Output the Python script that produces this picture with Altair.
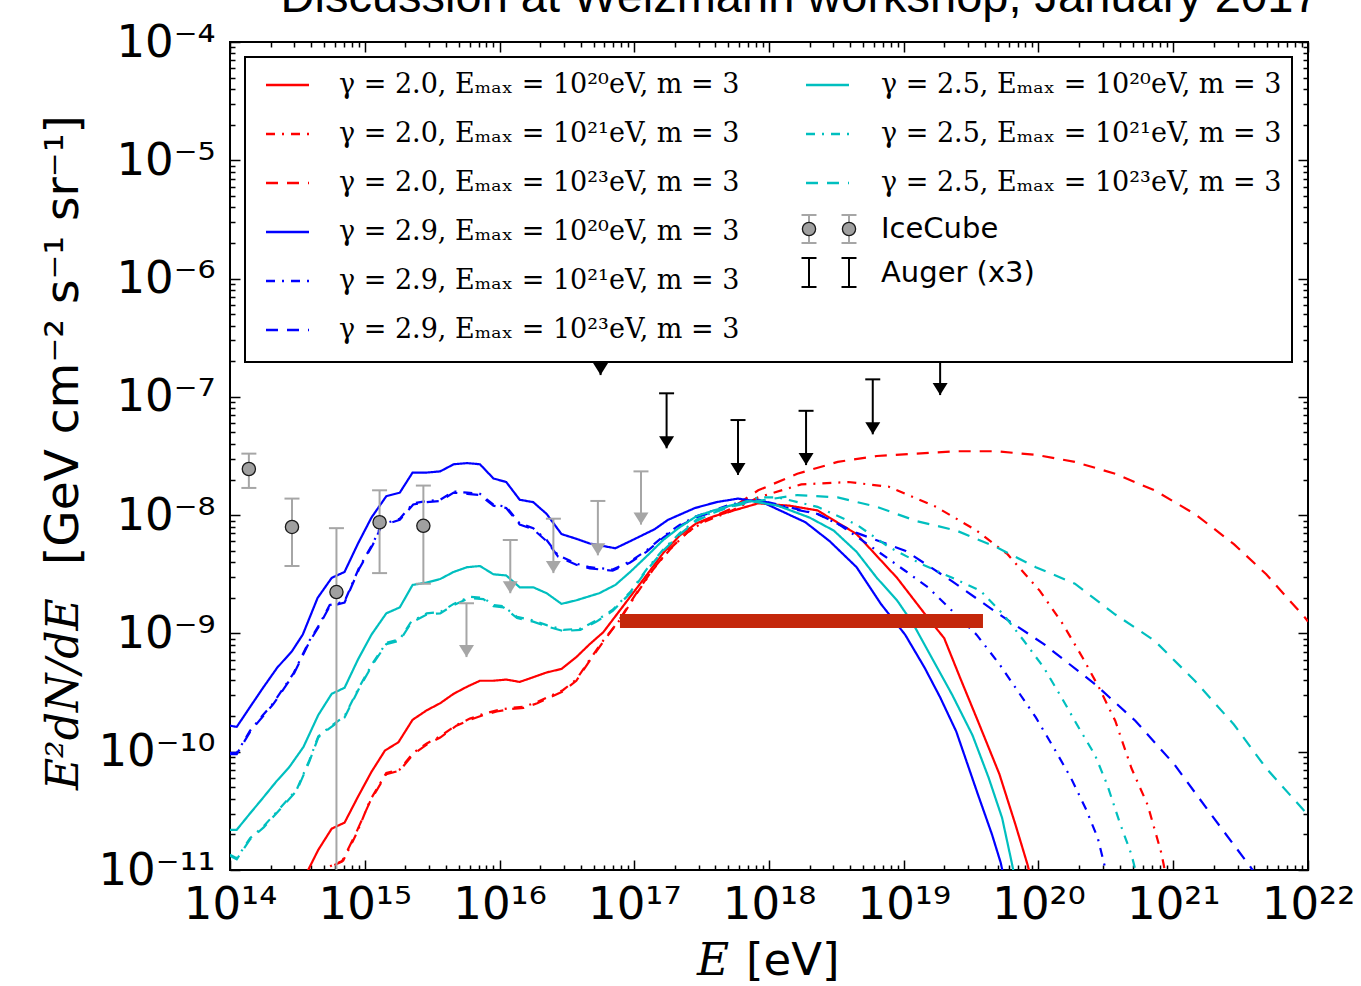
import altair as alt
import pandas as pd

# ---------------- data (log10 E [eV], log10 E^2 dN/dE [GeV cm^-2 s^-1 sr^-1]) -------------
R20_logE = [14.55, 14.58, 14.655, 14.755, 14.85, 14.95, 15.05, 15.15, 15.25, 15.355, 15.46, 15.56, 15.66, 15.76, 15.855, 15.955, 16.05, 16.15, 16.25, 16.35, 16.46, 16.57, 16.67, 16.77, 16.87, 16.97, 17.09, 17.215, 17.34, 17.46, 17.59, 17.71, 17.92, 18.15, 18.36, 18.65, 18.95, 19.18, 19.30, 19.42, 19.55, 19.71, 19.83, 19.92, 19.95]
R20_logF = [-11.15, -11.0, -10.83, -10.65, -10.60, -10.38, -10.17, -9.99, -9.92, -9.73, -9.65, -9.59, -9.51, -9.45, -9.40, -9.40, -9.39, -9.41, -9.37, -9.33, -9.30, -9.20, -9.09, -8.99, -8.84, -8.69, -8.51, -8.32, -8.17, -8.07, -8.01, -7.97, -7.90, -7.92, -7.96, -8.16, -8.53, -8.87, -9.04, -9.38, -9.74, -10.19, -10.62, -10.96, -11.1]

R21_logE = [14.72, 14.74, 14.84, 14.94, 15.04, 15.16, 15.26, 15.36, 15.46, 15.56, 15.68, 15.78, 15.88, 15.98, 16.08, 16.18, 16.28, 16.375, 16.47, 16.57, 16.67, 16.77, 16.89, 17.02, 17.14, 17.265, 17.39, 17.51, 17.71, 17.92, 18.24, 18.59, 18.89, 19.24, 19.54, 19.77, 20.01, 20.18, 20.33, 20.45, 20.57, 20.69, 20.81, 20.91, 20.93, 20.95]
R21_logF = [-11.1, -10.97, -10.92, -10.69, -10.41, -10.18, -10.15, -10.01, -9.93, -9.87, -9.775, -9.72, -9.68, -9.65, -9.63, -9.62, -9.58, -9.53, -9.48, -9.39, -9.22, -9.06, -8.89, -8.66, -8.46, -8.29, -8.15, -8.06, -7.97, -7.85, -7.74, -7.72, -7.76, -7.93, -8.13, -8.33, -8.64, -8.92, -9.21, -9.46, -9.74, -10.14, -10.45, -10.85, -10.96, -11.1]

R23_logE = [14.71, 14.73, 14.83, 14.93, 15.04, 15.16, 15.26, 15.36, 15.46, 15.56, 15.68, 15.78, 15.88, 15.98, 16.08, 16.18, 16.28, 16.375, 16.47, 16.57, 16.67, 16.77, 16.88, 17.01, 17.13, 17.26, 17.39, 17.51, 17.71, 17.92, 18.21, 18.51, 18.80, 19.095, 19.39, 19.685, 19.98, 20.27, 20.57, 20.86, 21.16, 21.45, 21.69, 21.98, 22.0]
R23_logF = [-11.1, -10.98, -10.93, -10.70, -10.42, -10.19, -10.16, -10.02, -9.94, -9.88, -9.78, -9.73, -9.69, -9.66, -9.64, -9.63, -9.59, -9.54, -9.49, -9.40, -9.23, -9.07, -8.90, -8.67, -8.47, -8.29, -8.15, -8.05, -7.95, -7.79, -7.65, -7.55, -7.50, -7.48, -7.46, -7.46, -7.49, -7.55, -7.65, -7.79, -7.99, -8.245, -8.50, -8.87, -8.90]

B20_logE = [14.00, 14.05, 14.15, 14.245, 14.35, 14.46, 14.54, 14.65, 14.755, 14.85, 14.95, 15.05, 15.16, 15.26, 15.355, 15.46, 15.56, 15.66, 15.76, 15.855, 15.955, 16.05, 16.15, 16.25, 16.35, 16.46, 16.57, 16.67, 16.86, 16.97, 17.15, 17.25, 17.45, 17.61, 17.77, 17.95, 18.10, 18.27, 18.45, 18.65, 18.83, 19.01, 19.155, 19.27, 19.39, 19.55, 19.655, 19.72, 19.75]
B20_logF = [-9.78, -9.79, -9.62, -9.46, -9.29, -9.15, -9.01, -8.70, -8.53, -8.48, -8.24, -8.02, -7.84, -7.81, -7.64, -7.64, -7.63, -7.57, -7.56, -7.57, -7.69, -7.72, -7.87, -7.89, -7.99, -8.16, -8.20, -8.24, -8.28, -8.22, -8.12, -8.04, -7.94, -7.89, -7.86, -7.89, -7.97, -8.06, -8.22, -8.44, -8.75, -9.01, -9.29, -9.54, -9.83, -10.36, -10.70, -10.94, -11.1]

B21_logE = [14.00, 14.05, 14.15, 14.245, 14.32, 14.47, 14.59, 14.655, 14.74, 14.85, 14.96, 15.06, 15.125, 15.26, 15.36, 15.46, 15.56, 15.66, 15.76, 15.855, 15.955, 16.05, 16.15, 16.25, 16.35, 16.435, 16.57, 16.67, 16.84, 16.97, 17.09, 17.215, 17.34, 17.46, 17.59, 17.71, 17.92, 18.10, 18.36, 18.535, 18.80, 19.01, 19.18, 19.36, 19.54, 19.71, 19.83, 19.98, 20.13, 20.24, 20.35, 20.44, 20.49, 20.52]
B21_logF = [-10.01, -10.01, -9.82, -9.69, -9.59, -9.34, -9.06, -8.94, -8.76, -8.73, -8.44, -8.24, -8.08, -8.03, -7.90, -7.88, -7.87, -7.80, -7.81, -7.82, -7.91, -7.93, -8.07, -8.11, -8.21, -8.34, -8.41, -8.44, -8.46, -8.39, -8.30, -8.18, -8.08, -8.01, -7.96, -7.91, -7.87, -7.92, -7.99, -8.09, -8.30, -8.47, -8.61, -8.81, -9.01, -9.26, -9.46, -9.71, -10.00, -10.22, -10.48, -10.73, -10.96, -11.1]

B23_logE = [14.00, 14.05, 14.15, 14.245, 14.32, 14.47, 14.59, 14.655, 14.74, 14.85, 14.96, 15.06, 15.125, 15.26, 15.36, 15.46, 15.56, 15.66, 15.76, 15.855, 15.955, 16.05, 16.15, 16.25, 16.35, 16.435, 16.57, 16.67, 16.84, 16.97, 17.09, 17.215, 17.34, 17.46, 17.59, 17.71, 17.92, 18.10, 18.36, 18.65, 19.01, 19.36, 19.71, 20.04, 20.42, 20.72, 21.01, 21.30, 21.57, 21.62]
B23_logF = [-10.02, -10.02, -9.83, -9.70, -9.60, -9.35, -9.07, -8.95, -8.77, -8.74, -8.45, -8.25, -8.09, -8.04, -7.91, -7.89, -7.88, -7.81, -7.82, -7.83, -7.92, -7.94, -8.08, -8.12, -8.22, -8.35, -8.42, -8.45, -8.47, -8.40, -8.31, -8.19, -8.09, -8.02, -7.97, -7.92, -7.87, -7.93, -7.99, -8.15, -8.30, -8.56, -8.84, -9.09, -9.43, -9.74, -10.11, -10.56, -10.97, -11.05]

C20_logE = [14.00, 14.05, 14.15, 14.245, 14.345, 14.44, 14.545, 14.655, 14.755, 14.85, 14.95, 15.05, 15.16, 15.26, 15.355, 15.46, 15.56, 15.66, 15.76, 15.855, 15.955, 16.05, 16.15, 16.25, 16.35, 16.46, 16.57, 16.74, 16.86, 16.97, 17.09, 17.215, 17.34, 17.46, 17.59, 17.71, 17.86, 18.065, 18.30, 18.48, 18.65, 18.80, 18.95, 19.07, 19.21, 19.36, 19.51, 19.63, 19.73, 19.80, 19.83]
C20_logF = [-10.66, -10.66, -10.52, -10.39, -10.25, -10.13, -9.96, -9.69, -9.51, -9.46, -9.22, -9.01, -8.83, -8.78, -8.59, -8.57, -8.54, -8.48, -8.44, -8.43, -8.50, -8.51, -8.61, -8.61, -8.66, -8.75, -8.72, -8.66, -8.59, -8.48, -8.35, -8.21, -8.10, -8.01, -7.96, -7.92, -7.88, -7.92, -8.02, -8.13, -8.31, -8.53, -8.72, -8.92, -9.21, -9.52, -9.86, -10.22, -10.56, -10.93, -11.1]

C21_logE = [14.00, 14.05, 14.15, 14.25, 14.345, 14.495, 14.59, 14.655, 14.74, 14.85, 14.96, 15.06, 15.16, 15.26, 15.345, 15.46, 15.56, 15.66, 15.78, 15.88, 15.955, 16.03, 16.13, 16.25, 16.35, 16.475, 16.60, 16.72, 16.84, 16.97, 17.09, 17.215, 17.34, 17.46, 17.59, 17.71, 17.92, 18.065, 18.36, 18.65, 18.89, 19.125, 19.36, 19.57, 19.74, 19.89, 20.04, 20.17, 20.30, 20.42, 20.51, 20.60, 20.69, 20.73]
C21_logF = [-10.87, -10.90, -10.73, -10.63, -10.51, -10.32, -10.07, -9.87, -9.79, -9.70, -9.45, -9.25, -9.08, -9.05, -8.90, -8.83, -8.82, -8.75, -8.69, -8.70, -8.76, -8.77, -8.86, -8.89, -8.93, -8.97, -8.96, -8.89, -8.80, -8.65, -8.46, -8.29, -8.15, -8.04, -7.97, -7.93, -7.85, -7.85, -7.93, -8.08, -8.27, -8.41, -8.53, -8.64, -8.84, -9.06, -9.29, -9.54, -9.80, -10.03, -10.28, -10.59, -10.87, -11.05]

C23_logE = [14.00, 14.05, 14.15, 14.25, 14.345, 14.495, 14.59, 14.655, 14.74, 14.85, 14.96, 15.06, 15.16, 15.26, 15.345, 15.46, 15.56, 15.66, 15.78, 15.88, 15.955, 16.03, 16.13, 16.25, 16.35, 16.475, 16.60, 16.72, 16.84, 16.97, 17.09, 17.215, 17.34, 17.46, 17.59, 17.71, 17.92, 18.21, 18.51, 18.80, 19.095, 19.39, 19.685, 19.98, 20.27, 20.57, 20.86, 21.16, 21.45, 21.69, 21.98, 22.0]
C23_logF = [-10.88, -10.91, -10.74, -10.64, -10.52, -10.33, -10.08, -9.88, -9.80, -9.71, -9.46, -9.26, -9.09, -9.06, -8.91, -8.84, -8.83, -8.76, -8.70, -8.71, -8.77, -8.78, -8.87, -8.90, -8.94, -8.98, -8.97, -8.90, -8.81, -8.66, -8.47, -8.30, -8.16, -8.05, -7.98, -7.93, -7.88, -7.83, -7.85, -7.93, -8.05, -8.13, -8.27, -8.44, -8.58, -8.84, -9.06, -9.40, -9.77, -10.14, -10.51, -10.54]

# IceCube points with error bars
ICE_logE = [14.14, 14.46, 14.79, 15.11, 15.435]
ICE_logF = [-7.61, -8.10, -8.65, -8.06, -8.09]
ICE_logLo = [-7.77, -8.43, -12.0, -8.49, -8.58]
ICE_logHi = [-7.48, -7.86, -8.11, -7.79, -7.75]

# IceCube upper limits (grey arrows)
UL_logE = [15.755, 16.08, 16.40, 16.73, 17.05]
UL_logTop = [-8.745, -8.21, -8.03, -7.88, -7.63]
UL_logTip = [-9.20, -8.66, -8.49, -8.34, -8.08]

# Auger (x3) upper limits (black arrows)
AUG_logE = [16.75, 17.24, 17.77, 18.275, 18.77, 19.27]
AUG_logTop = [-6.35, -6.97, -7.196, -7.118, -6.852, -6.52]
AUG_logTip = [-6.816, -7.435, -7.66, -7.577, -7.317, -6.985]

# thick red band
BAR_logE = [16.894, 19.588]
BAR_logF = -8.895

SERIES = ["R20", "R21", "R23", "B20", "B21", "B23", "C20", "C21", "C23"]
LABELS = {
    "R20": "γ = 2.0, Eₘₐₓ = 10²⁰eV, m = 3",
    "R21": "γ = 2.0, Eₘₐₓ = 10²¹eV, m = 3",
    "R23": "γ = 2.0, Eₘₐₓ = 10²³eV, m = 3",
    "B20": "γ = 2.9, Eₘₐₓ = 10²⁰eV, m = 3",
    "B21": "γ = 2.9, Eₘₐₓ = 10²¹eV, m = 3",
    "B23": "γ = 2.9, Eₘₐₓ = 10²³eV, m = 3",
    "C20": "γ = 2.5, Eₘₐₓ = 10²⁰eV, m = 3",
    "C21": "γ = 2.5, Eₘₐₓ = 10²¹eV, m = 3",
    "C23": "γ = 2.5, Eₘₐₓ = 10²³eV, m = 3",
}
COLORS = ["#ff0000"] * 3 + ["#0000ff"] * 3 + ["#00bfbf"] * 3
DASHES = [[1, 0], [9, 7, 2, 7], [12, 9]] * 3

X_TICK_LABELS = ["10¹⁴", "10¹⁵", "10¹⁶", "10¹⁷", "10¹⁸", "10¹⁹", "10²⁰", "10²¹", "10²²"]
Y_TICK_LABELS = ["10⁻¹¹", "10⁻¹⁰", "10⁻⁹", "10⁻⁸", "10⁻⁷", "10⁻⁶", "10⁻⁵", "10⁻⁴"]

TITLE = "Discussion at Weizmann workshop, January 2017"
YTITLE_MATH = "E²dN/dE"
YTITLE_UNIT = "[GeV cm⁻² s⁻¹ sr⁻¹]"
XTITLE_MATH = "E"
XTITLE_UNIT = "[eV]"

# ---------------- build tables ----------------
series_data = {
    "R20": (R20_logE, R20_logF), "R21": (R21_logE, R21_logF), "R23": (R23_logE, R23_logF),
    "B20": (B20_logE, B20_logF), "B21": (B21_logE, B21_logF), "B23": (B23_logE, B23_logF),
    "C20": (C20_logE, C20_logF), "C21": (C21_logE, C21_logF), "C23": (C23_logE, C23_logF),
}
rows = []
for s in SERIES:
    le, lf = series_data[s]
    for a, b in zip(le, lf):
        rows.append({"series": s, "E": 10 ** a, "F": 10 ** b})
lines_df = pd.DataFrame(rows)

ice_df = pd.DataFrame({
    "E": [10 ** v for v in ICE_logE], "F": [10 ** v for v in ICE_logF],
    "lo": [10 ** v for v in ICE_logLo], "hi": [10 ** v for v in ICE_logHi]})
ul_df = pd.DataFrame({"E": [10 ** v for v in UL_logE], "top": [10 ** v for v in UL_logTop],
                      "tip": [10 ** v for v in UL_logTip]})
aug_df = pd.DataFrame({"E": [10 ** v for v in AUG_logE], "top": [10 ** v for v in AUG_logTop],
                       "tip": [10 ** v for v in AUG_logTip]})
bar_df = pd.DataFrame({"E1": [10 ** BAR_logE[0]], "E2": [10 ** BAR_logE[1]], "F": [10 ** BAR_logF]})

W, H = 1078, 828
X_MAJOR = [10.0 ** n for n in range(14, 23)]
Y_MAJOR = [10.0 ** n for n in range(-11, -3)]
X_MINOR = [k * 10.0 ** n for n in range(14, 22) for k in range(2, 10)]
Y_MINOR = [k * 10.0 ** n for n in range(-11, -4) for k in range(2, 10)]


def xs():
    return alt.Scale(type="log", domain=[1e14, 1e22], nice=False)


def ys():
    return alt.Scale(type="log", domain=[1e-11, 1e-4], nice=False)


def px():
    return alt.Scale(domain=[0, W], nice=False, zero=False)


def py():
    return alt.Scale(domain=[H, 0], nice=False, zero=False)


def X(field, **kw):
    return alt.X(field, type="quantitative", scale=xs(), axis=None, **kw)


def Y(field, **kw):
    return alt.Y(field, type="quantitative", scale=ys(), axis=None, **kw)


ARROW_HEAD = "M-1,-1.6L1,-1.6L0,0Z"
CAP = "M-1,0L1,0"
GREY = "#a6a6a6"

lines = alt.Chart(lines_df).mark_line(clip=True, strokeWidth=2.2).encode(
    x=X("E"), y=Y("F"),
    color=alt.Color("series:N", scale=alt.Scale(domain=SERIES, range=COLORS), legend=None),
    strokeDash=alt.StrokeDash("series:N", scale=alt.Scale(domain=SERIES, range=DASHES), legend=None),
)

ice_bar = alt.Chart(ice_df).mark_rule(clip=True, color=GREY, strokeWidth=2).encode(
    x=X("E"), y=Y("lo"), y2="hi")
ice_cap_hi = alt.Chart(ice_df).mark_point(clip=True, shape=CAP, size=225, stroke=GREY, strokeWidth=2,
                                          filled=False, opacity=1).encode(x=X("E"), y=Y("hi"))
ice_cap_lo = alt.Chart(ice_df).mark_point(clip=True, shape=CAP, size=225, stroke=GREY, strokeWidth=2,
                                          filled=False, opacity=1).encode(x=X("E"), y=Y("lo"))
ice_pt = alt.Chart(ice_df).mark_point(clip=True, shape="circle", size=175, filled=True, fill="#a0a0a0",
                                      stroke="#1a1a1a", strokeWidth=1.3, opacity=1).encode(x=X("E"), y=Y("F"))


def arrows(df, col):
    shaft = alt.Chart(df).mark_rule(clip=True, color=col, strokeWidth=2).encode(x=X("E"), y=Y("top"), y2="tip")
    cap = alt.Chart(df).mark_point(clip=True, shape=CAP, size=225, stroke=col, strokeWidth=2,
                                   filled=False, opacity=1).encode(x=X("E"), y=Y("top"))
    head = alt.Chart(df).mark_point(clip=True, shape=ARROW_HEAD, size=225, filled=True, fill=col,
                                    strokeWidth=0, opacity=1).encode(x=X("E"), y=Y("tip"))
    return [shaft, cap, head]


red_bar = alt.Chart(bar_df).mark_rule(clip=True, color="#c4270b", strokeWidth=14, strokeCap="butt").encode(
    x=X("E1"), x2="E2", y=Y("F"))

# ---------------- axes (inward ticks on all four sides) ----------------
dummy = pd.DataFrame({"E": [1e15], "F": [1e-8]})
x_expr = "[" + ",".join("'%s'" % s for s in X_TICK_LABELS) + "][round(log(datum.value)/LN10) - 14]"
y_expr = "[" + ",".join("'%s'" % s for s in Y_TICK_LABELS) + "][round(log(datum.value)/LN10) + 11]"

common_ax = dict(domain=False, grid=False, title=None, tickColor="black", tickWidth=1.5,
                 labelOverlap=False, labelFlush=False)


def axis_layer(xaxis, yaxis):
    return alt.Chart(dummy).mark_point(opacity=0).encode(
        x=alt.X("E:Q", scale=xs(), axis=xaxis), y=alt.Y("F:Q", scale=ys(), axis=yaxis))


ax_major = axis_layer(
    alt.Axis(orient="bottom", values=X_MAJOR, labelExpr=x_expr, offset=-10, tickSize=10,
             labelFont="DejaVu Sans", labelFontSize=45, labelColor="black", labelPadding=12, **common_ax),
    alt.Axis(orient="left", values=Y_MAJOR, labelExpr=y_expr, offset=-10, tickSize=10,
             labelFont="DejaVu Sans", labelFontSize=45, labelColor="black", labelPadding=15, **common_ax))
ax_minor = axis_layer(
    alt.Axis(orient="bottom", values=X_MINOR, labels=False, offset=-5, tickSize=5, **common_ax),
    alt.Axis(orient="left", values=Y_MINOR, labels=False, offset=-5, tickSize=5, **common_ax))
ax_major2 = axis_layer(
    alt.Axis(orient="top", values=X_MAJOR, labels=False, offset=-10, tickSize=10, **common_ax),
    alt.Axis(orient="right", values=Y_MAJOR, labels=False, offset=-10, tickSize=10, **common_ax))
ax_minor2 = axis_layer(
    alt.Axis(orient="top", values=X_MINOR, labels=False, offset=-5, tickSize=5, **common_ax),
    alt.Axis(orient="right", values=Y_MINOR, labels=False, offset=-5, tickSize=5, **common_ax))

# ---------------- legend (pixel space relative to plot area) ----------------
ROW_Y = [43, 92, 141, 190, 239, 288]
COL1 = SERIES[0:6]
COL2 = SERIES[6:9]

leg_box = alt.Chart(pd.DataFrame({"x": [15], "x2": [1062], "y": [15], "y2": [320]})).mark_rect(
    fill="white", stroke="black", strokeWidth=2).encode(
    x=alt.X("x:Q", scale=px(), axis=None), x2="x2", y=alt.Y("y:Q", scale=py(), axis=None), y2="y2")

leg_rows = []
for i, s in enumerate(COL1):
    leg_rows.append({"series": s, "x": 36, "x2": 79, "y": ROW_Y[i], "tx": 109, "label": LABELS[s]})
for i, s in enumerate(COL2):
    leg_rows.append({"series": s, "x": 576, "x2": 619, "y": ROW_Y[i], "tx": 651, "label": LABELS[s]})
leg_df = pd.DataFrame(leg_rows)

leg_lines = alt.Chart(leg_df).mark_rule(strokeWidth=2.4).encode(
    x=alt.X("x:Q", scale=px(), axis=None), x2="x2", y=alt.Y("y:Q", scale=py(), axis=None),
    color=alt.Color("series:N", scale=alt.Scale(domain=SERIES, range=COLORS), legend=None),
    strokeDash=alt.StrokeDash("series:N", scale=alt.Scale(domain=SERIES, range=DASHES), legend=None))
leg_text = alt.Chart(leg_df).mark_text(align="left", baseline="middle", font="DejaVu Serif",
                                       fontSize=27, color="black").encode(
    x=alt.X("tx:Q", scale=px(), axis=None), y=alt.Y("y:Q", scale=py(), axis=None), text="label:N")

sym_df = pd.DataFrame({"x": [579, 619], "ice_y": [187, 187], "ice_lo": [201, 201], "ice_hi": [173, 173],
                       "aug_lo": [245, 245], "aug_hi": [216, 216]})
PXX = alt.X("x:Q", scale=px(), axis=None)
sym_layers = [
    alt.Chart(sym_df).mark_rule(color=GREY, strokeWidth=2).encode(
        x=PXX, y=alt.Y("ice_lo:Q", scale=py(), axis=None), y2="ice_hi"),
    alt.Chart(sym_df).mark_point(shape=CAP, size=225, stroke=GREY, strokeWidth=2, filled=False, opacity=1).encode(
        x=PXX, y=alt.Y("ice_lo:Q", scale=py(), axis=None)),
    alt.Chart(sym_df).mark_point(shape=CAP, size=225, stroke=GREY, strokeWidth=2, filled=False, opacity=1).encode(
        x=PXX, y=alt.Y("ice_hi:Q", scale=py(), axis=None)),
    alt.Chart(sym_df).mark_point(shape="circle", size=175, filled=True, fill="#a0a0a0", stroke="#1a1a1a",
                                 strokeWidth=1.3, opacity=1).encode(
        x=PXX, y=alt.Y("ice_y:Q", scale=py(), axis=None)),
    alt.Chart(sym_df).mark_rule(color="black", strokeWidth=2).encode(
        x=PXX, y=alt.Y("aug_lo:Q", scale=py(), axis=None), y2="aug_hi"),
    alt.Chart(sym_df).mark_point(shape=CAP, size=225, stroke="black", strokeWidth=2, filled=False, opacity=1).encode(
        x=PXX, y=alt.Y("aug_lo:Q", scale=py(), axis=None)),
    alt.Chart(sym_df).mark_point(shape=CAP, size=225, stroke="black", strokeWidth=2, filled=False, opacity=1).encode(
        x=PXX, y=alt.Y("aug_hi:Q", scale=py(), axis=None)),
]
sym_text = alt.Chart(pd.DataFrame({"x": [651, 651], "y": [187, 231], "t": ["IceCube", "Auger (x3)"]})).mark_text(
    align="left", baseline="middle", font="DejaVu Sans", fontSize=29, color="black").encode(
    x=alt.X("x:Q", scale=px(), axis=None), y=alt.Y("y:Q", scale=py(), axis=None), text="t:N")


def ptext(x, y, t, **kw):
    return alt.Chart(pd.DataFrame({"x": [x], "y": [y], "t": [t]})).mark_text(color="black", **kw).encode(
        x=alt.X("x:Q", scale=px(), axis=None), y=alt.Y("y:Q", scale=py(), axis=None), text="t:N")


title_t = ptext(570, -30, TITLE, align="center", baseline="alphabetic", font="Liberation Sans", fontSize=47)
xt_math = ptext(467, 933, XTITLE_MATH, align="left", baseline="alphabetic", font="DejaVu Serif",
                fontStyle="italic", fontSize=44)
xt_unit = ptext(516, 933, XTITLE_UNIT, align="left", baseline="alphabetic", font="DejaVu Sans", fontSize=45)
yt_math = ptext(-152, 748, YTITLE_MATH, align="left", baseline="alphabetic", font="DejaVu Serif",
                fontStyle="italic", fontSize=44, angle=270)
yt_unit = ptext(-152, 523, YTITLE_UNIT, align="left", baseline="alphabetic", font="DejaVu Sans",
                fontSize=47, angle=270)

layers = ([lines, ice_bar, ice_cap_hi, ice_cap_lo, ice_pt]
          + arrows(ul_df, GREY) + arrows(aug_df, "black")
          + [red_bar, ax_major, ax_minor, ax_major2, ax_minor2, leg_box, leg_lines, leg_text]
          + sym_layers + [sym_text, title_t, xt_math, xt_unit, yt_math, yt_unit])

chart = alt.layer(*layers).resolve_scale(
    x="independent", y="independent", color="independent", strokeDash="independent"
).properties(
    width=W, height=H,
    autosize=alt.AutoSizeParams(type="none"),
    padding={"left": 230, "top": 42, "right": 53, "bottom": 116},
    background="white",
).configure_view(stroke="black", strokeWidth=2)

chart.save("out.html", embed_options={"renderer": "svg", "actions": False})
